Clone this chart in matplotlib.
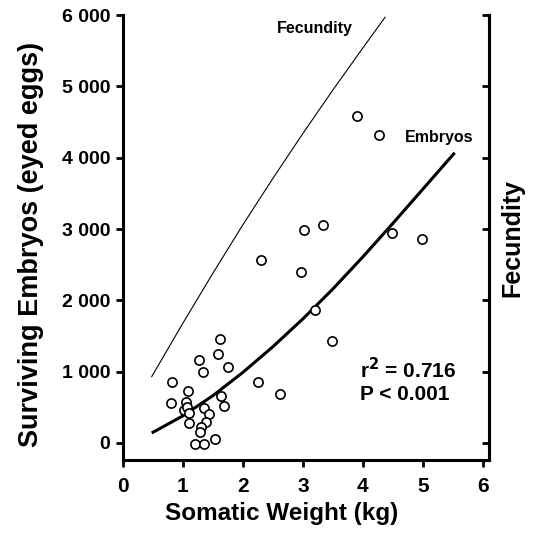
import matplotlib
matplotlib.use("Agg")
import matplotlib.pyplot as plt

# Scatter data: somatic weight (kg) vs surviving embryos (eyed eggs)
weight = [3.90, 4.27, 3.02, 3.33, 4.49, 4.98, 2.31, 2.97, 3.21, 3.48, 2.25, 2.62,
          1.62, 1.58, 1.27, 1.33, 1.76, 0.82, 1.08, 0.81, 1.63, 1.69, 1.05,
          1.02, 1.07, 1.10, 1.10, 1.36, 1.43, 1.38, 1.31, 1.29, 1.21, 1.35, 1.53]
embryos = [4592, 4312, 2982, 3062, 2950, 2856, 2562, 2403, 1862, 1428, 858, 682,
           1456, 1242, 1162, 998, 1068, 850, 732, 556, 658, 522, 578,
           462, 500, 420, 284, 486, 402, 290, 220, 150, -18, -18, 52]

# Fitted embryos curve
curve_x = [0.48, 1.0, 1.5, 2.0, 2.5, 3.0, 3.5, 4.0, 4.5, 5.0, 5.53]
curve_y = [140, 380, 663, 990, 1350, 1740, 2160, 2610, 3080, 3560, 4070]

# Fecundity line
fec_x = [0.48, 1.0, 1.5, 2.0, 2.5, 3.0, 3.5, 4.0, 4.37]
fec_y = [930, 1680, 2380, 3060, 3710, 4340, 4950, 5540, 5970]

xticks = [0, 1, 2, 3, 4, 5, 6]
yticks = [0, 1000, 2000, 3000, 4000, 5000, 6000]
ytick_labels = ["0", "1 000", "2 000", "3 000", "4 000", "5 000", "6 000"]

plt.rcParams['font.family'] = ['Liberation Sans', 'DejaVu Sans']
plt.rcParams['font.weight'] = 'bold'

fig = plt.figure(figsize=(5.39, 5.40), dpi=100)
ax = fig.add_axes([0.228, 0.148, 0.679, 0.824])

ax.plot(fec_x, fec_y, color='black', lw=0.8)
ax.plot(curve_x, curve_y, color='black', lw=2.2, solid_capstyle='butt',
        solid_joinstyle='round')
ax.scatter(weight, embryos, s=44, facecolors='white', edgecolors='black',
           linewidths=1.2, zorder=3)

ax.set_xlim(0, 6.1)
ax.set_ylim(-240, 6000)
ax.set_xticks(xticks)
ax.set_yticks(yticks)
ax.set_yticklabels(ytick_labels)

for side in ['left', 'bottom', 'right']:
    ax.spines[side].set_linewidth(2.2)
ax.spines['top'].set_visible(False)

ax.tick_params(axis='both', direction='out', length=5, width=2, pad=4)
ax.tick_params(axis='y', labelsize=14)
ax.tick_params(axis='x', labelsize=15, pad=7)
for lab in ax.get_xticklabels() + ax.get_yticklabels():
    lab.set_fontweight('bold')

ax2 = ax.twinx()
ax2.set_ylim(ax.get_ylim())
ax2.set_yticks(yticks)
ax2.tick_params(axis='y', direction='in', length=5, width=2, labelright=False)
ax2.spines['right'].set_linewidth(2.2)
ax2.spines['top'].set_visible(False)
ax2.spines['left'].set_visible(False)
ax2.spines['bottom'].set_visible(False)

ax.set_xlabel("Somatic Weight (kg)", fontsize=17.5, fontweight='bold')
ax.xaxis.set_label_coords(0.435, -0.095)
ax.set_ylabel("Surviving Embryos (eyed eggs)", fontsize=19.5, fontweight='bold')
ax.yaxis.set_label_coords(-0.215, 0.485)
ax2.set_ylabel("Fecundity", fontsize=18, fontweight='bold', labelpad=8)

ax.text(3.2, 5810, "Fecundity", fontsize=11.5, fontweight='bold', ha='center', va='center')
ax.text(4.7, 4290, "Embryos", fontsize=11.5, fontweight='bold', ha='left', va='center')
ax.text(3.95, 1022, "r$^{\\mathbf{2}}$ = 0.716", fontsize=15, fontweight='bold', ha='left', va='center')
ax.text(3.95, 686, "P < 0.001", fontsize=15, fontweight='bold', ha='left', va='center')

fig.savefig("out.png", dpi=100)
